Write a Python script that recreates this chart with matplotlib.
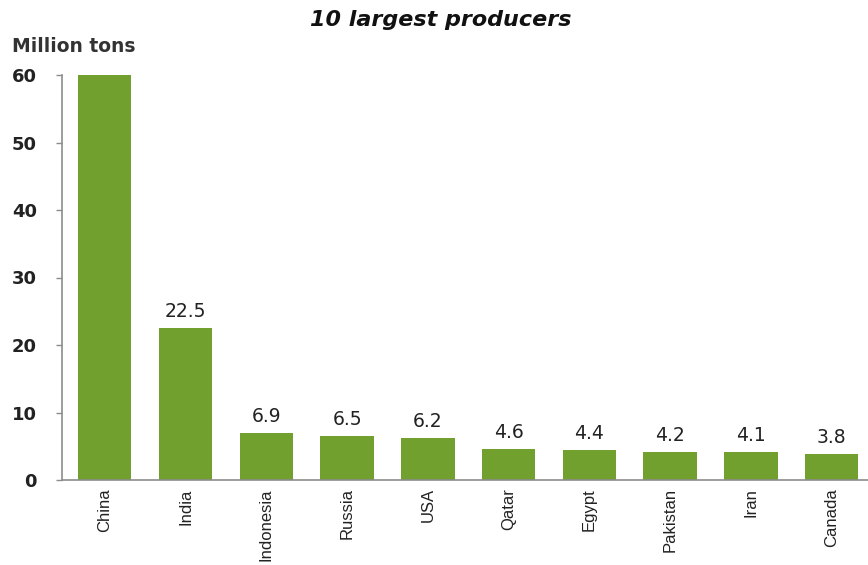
import matplotlib
matplotlib.use("Agg")
import matplotlib.pyplot as plt

countries = ["China", "India", "Indonesia", "Russia", "USA",
             "Qatar", "Egypt", "Pakistan", "Iran", "Canada"]
production = [60.0, 22.5, 6.9, 6.5, 6.2, 4.6, 4.4, 4.2, 4.1, 3.8]
value_labels = ["", "22.5", "6.9", "6.5", "6.2", "4.6", "4.4", "4.2", "4.1", "3.8"]
yticks = [0, 10, 20, 30, 40, 50, 60]

bar_color = "#72a02e"
text_color = "#222222"
axis_color = "#8c8c8c"

fig = plt.figure(figsize=(8.68, 5.65), dpi=100)
ax = fig.add_axes([62 / 868, 1 - 480 / 565, 1 - 62 / 868, (480 - 75) / 565])

x = range(len(countries))
bars = ax.bar(x, production, width=0.66, color=bar_color)

for rect, lab in zip(bars, value_labels):
    if lab:
        ax.annotate(lab, (rect.get_x() + rect.get_width() / 2, rect.get_height()),
                    xytext=(0, 5), textcoords="offset points",
                    ha="center", va="bottom", fontsize=13.5, color=text_color)

ax.set_xlim(-0.53, 9.45)
ax.set_ylim(0, 60)
ax.set_yticks(yticks)
ax.set_yticklabels([str(v) for v in yticks], fontsize=13, fontweight="bold", color=text_color)
ax.set_xticks(list(x))
ax.set_xticklabels(countries, rotation=90, fontsize=12, color=text_color,
                   family=["Liberation Sans", "DejaVu Sans"])

ax.tick_params(axis="y", length=4, width=1, color=axis_color, pad=14)
ax.tick_params(axis="x", length=0, pad=6)
for side in ["top", "right"]:
    ax.spines[side].set_visible(False)
for side in ["left", "bottom"]:
    ax.spines[side].set_color(axis_color)
    ax.spines[side].set_linewidth(1.2)

fig.text(441 / 868, 1 - 20 / 565, "10 largest producers", ha="center", va="center",
         fontsize=16, fontweight="bold", fontstyle="italic", color="#111111")
fig.text(12 / 868, 1 - 47 / 565, "Million tons", ha="left", va="center",
         fontsize=13.5, fontweight="bold", color="#333333")

fig.savefig("out.png", dpi=100)
